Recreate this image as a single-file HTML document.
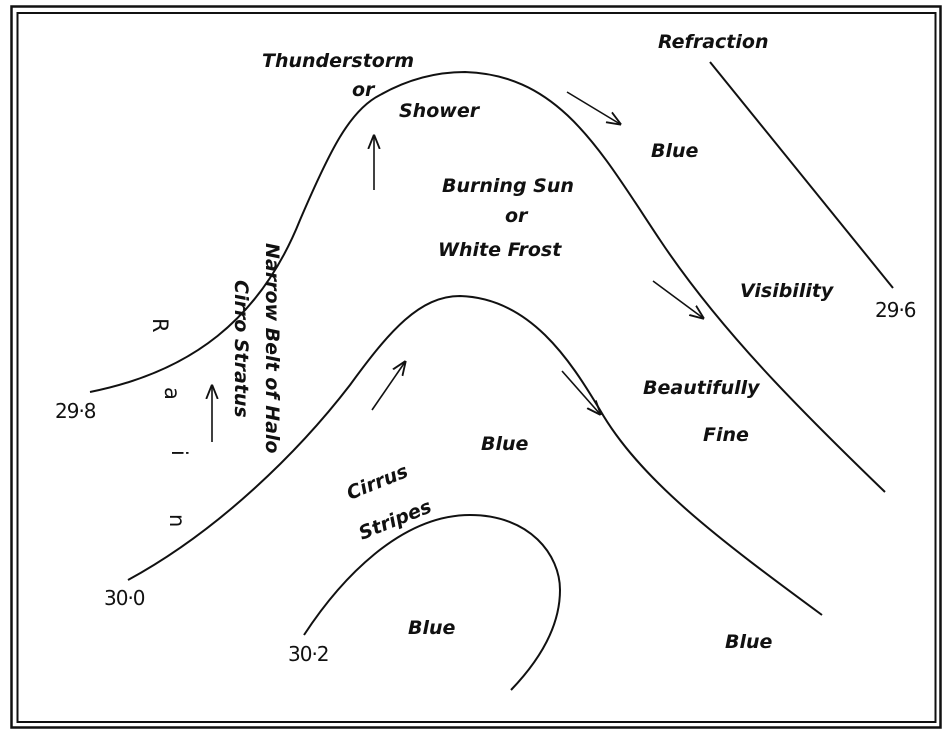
<!DOCTYPE html>
<html><head><meta charset="utf-8"><style>
html,body{margin:0;padding:0;background:#fff;width:950px;height:735px;overflow:hidden}
svg text{font-family:"DejaVu Sans","Liberation Sans",sans-serif;font-style:italic;font-weight:bold;fill:#111}
svg text.n{font-style:normal;font-weight:normal}
</style></head><body>
<svg width="950" height="735" viewBox="0 0 950 735" xmlns="http://www.w3.org/2000/svg">
<defs><marker id="a" viewBox="0 0 10 10" refX="9" refY="5" markerWidth="9" markerHeight="9" orient="auto"><path d="M0,1 L10,5 L0,9" fill="none" stroke="#111" stroke-width="1.3"/></marker></defs>
<rect x="11.5" y="6.5" width="929" height="721" fill="none" stroke="#111" stroke-width="2.5"/>
<rect x="17.5" y="13" width="918" height="709" fill="none" stroke="#111" stroke-width="2"/>
<g fill="none" stroke="#111" stroke-width="2">
<path d="M90,392 C190,372 260,320 300,220 C330,150 350,110 380,95 C410,78 440,72 465,72 C560,75 600,150 660,240 C720,330 800,410 885,492"/>
<path d="M128,580 C220,530 300,450 350,385 C390,330 420,296 460,296 C530,298 570,360 600,410 C640,480 720,540 822,615"/>
<path d="M304,635 C340,580 400,515 470,515 C530,515 560,555 560,590 C560,630 535,665 511,690"/>
<path d="M710,62 L893,288"/>
</g>
<g stroke="#111" stroke-width="1.6" fill="none" marker-end="url(#a)">
<line x1="374" y1="190" x2="374" y2="136"/>
<line x1="567" y1="92" x2="620" y2="124"/>
<line x1="653" y1="281" x2="703" y2="318"/>
<line x1="562" y1="371" x2="600" y2="414"/>
<line x1="372" y1="410" x2="405" y2="362"/>
<line x1="212" y1="442" x2="212" y2="386"/>
</g>
<g font-size="19">
<text x="262" y="67">Thunderstorm</text>
<text x="352" y="96">or</text>
<text x="399" y="117">Shower</text>
<text x="658" y="48">Refraction</text>
<text x="651" y="157">Blue</text>
<text x="442" y="192">Burning Sun</text>
<text x="505" y="222">or</text>
<text x="438" y="256">White Frost</text>
<text x="740" y="297">Visibility</text>
<text x="643" y="394">Beautifully</text>
<text x="703" y="441">Fine</text>
<text x="481" y="450">Blue</text>
<text x="408" y="634">Blue</text>
<text x="725" y="648">Blue</text>
<text transform="translate(350,500) rotate(-22)">Cirrus</text>
<text transform="translate(362,540) rotate(-22)">Stripes</text>
<text transform="translate(266,243) rotate(90)">Narrow Belt of Halo</text>
<text transform="translate(235,280) rotate(90)">Cirro Stratus</text>
</g>
<g font-size="21">
<text class="n" transform="translate(153,318) rotate(90)">R</text>
<text class="n" transform="translate(165,387) rotate(90)">a</text>
<text class="n" transform="translate(172,450) rotate(90)">i</text>
<text class="n" transform="translate(170,514) rotate(90)">n</text>
</g>
<g font-size="20" letter-spacing="-1">
<text class="n" x="55" y="418">29·8</text>
<text class="n" x="104" y="605">30·0</text>
<text class="n" x="288" y="661">30·2</text>
<text class="n" x="875" y="317">29·6</text>
</g>
</svg>
</body></html>
